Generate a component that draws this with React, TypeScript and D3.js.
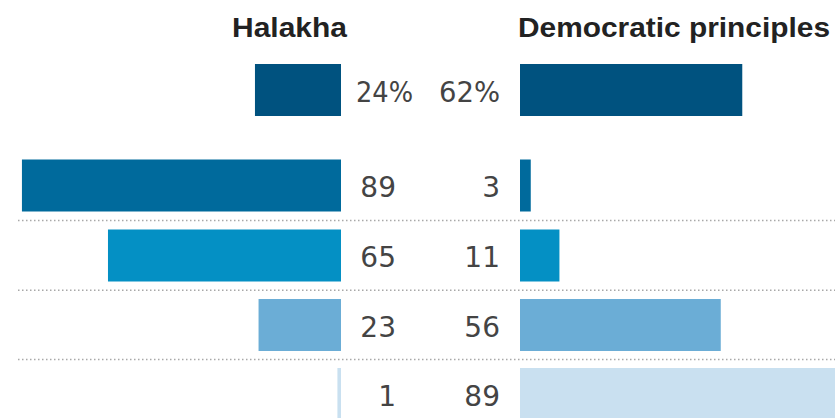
import React from "react";
import * as d3 from "d3";

const rows = ["total", "r2", "r3", "r4", "r5"];
const halakha = [24, 89, 65, 23, 1];
const democratic = [62, 3, 11, 56, 89];
const halakhaLabels = ["24%", "89", "65", "23", "1"];
const democraticLabels = ["62%", "3", "11", "56", "89"];
const colors = ["#00527f", "#006a9c", "#0490c4", "#6badd6", "#c9e0f0"];
const headers = ["Halakha", "Democratic principles"];

const W = 835;
const H = 418;
const rowCenters = [90, 185.5, 255.5, 325, 394];
const barH = 52;
const leftEdge = 341;
const rightEdge = 520;
const valueFont = "DejaVu Sans, Liberation Sans, sans-serif";

export default function App() {
  const x = d3.scaleLinear().domain([0, 100]).range([0, 358.5]);
  const separators = [0.5 * (rowCenters[1] + rowCenters[2]), 0.5 * (rowCenters[2] + rowCenters[3]), 0.5 * (rowCenters[3] + rowCenters[4])];
  return (
    <svg
      width={W}
      height={H}
      style={{ position: "absolute", left: 0, top: 0, background: "#fff" }}
    >
      <text
        x={347}
        y={37}
        textAnchor="end"
        fontFamily="Liberation Sans, Arial, sans-serif"
        fontWeight="bold"
        fontSize={27}
        fill="#222"
        textLength={115}
        lengthAdjust="spacingAndGlyphs"
      >
        {headers[0]}
      </text>
      <text
        x={518}
        y={37}
        fontFamily="Liberation Sans, Arial, sans-serif"
        fontWeight="bold"
        fontSize={27}
        fill="#222"
        textLength={312}
        lengthAdjust="spacingAndGlyphs"
      >
        {headers[1]}
      </text>
      {separators.map((y, i) => (
        <line
          key={"s" + i}
          x1={18}
          x2={W}
          y1={y}
          y2={y}
          stroke="#a8a8a8"
          strokeWidth={1.5}
          strokeDasharray="1.5 2.5"
        />
      ))}
      {rows.map((r, i) => {
        const cy = rowCenters[i];
        const hw = x(halakha[i]);
        const dw = x(democratic[i]);
        const isTotal = i === 0;
        return (
          <g key={r}>
            <rect x={leftEdge - hw} y={cy - barH / 2} width={hw} height={barH} fill={colors[i]} />
            <rect x={rightEdge} y={cy - barH / 2} width={dw} height={barH} fill={colors[i]} />
            {isTotal ? (
              <text
                x={356}
                y={cy + 11.5}
                fontFamily={valueFont}
                fontSize={28}
                fill="#444"
                textLength={57}
                lengthAdjust="spacingAndGlyphs"
              >
                {halakhaLabels[i]}
              </text>
            ) : (
              <text
                x={396}
                y={cy + 11.5}
                textAnchor="end"
                fontFamily={valueFont}
                fontSize={28}
                fill="#444"
              >
                {halakhaLabels[i]}
              </text>
            )}
            {isTotal ? (
              <text
                x={439}
                y={cy + 11.5}
                fontFamily={valueFont}
                fontSize={28}
                fill="#444"
                textLength={61}
                lengthAdjust="spacingAndGlyphs"
              >
                {democraticLabels[i]}
              </text>
            ) : (
              <text
                x={500}
                y={cy + 11.5}
                textAnchor="end"
                fontFamily={valueFont}
                fontSize={28}
                fill="#444"
              >
                {democraticLabels[i]}
              </text>
            )}
          </g>
        );
      })}
    </svg>
  );
}
